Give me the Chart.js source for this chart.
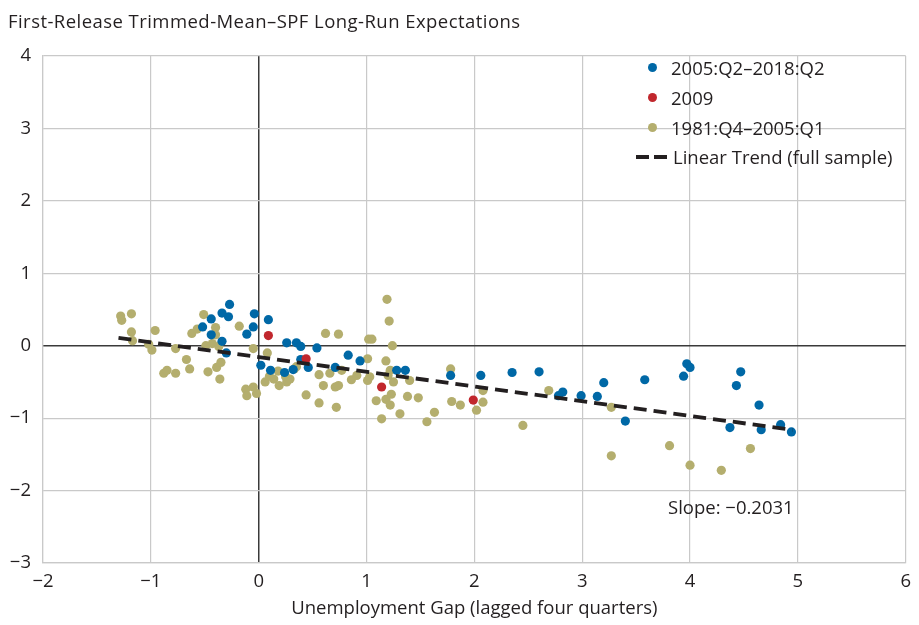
<!DOCTYPE html>
<html>
<head>
<meta charset="utf-8">
<script src="https://cdn.jsdelivr.net/npm/chart.js@4.4.1/dist/chart.umd.min.js"></script>
<style>
  html, body { margin: 0; padding: 0; background: #fff; }
  #wrap { position: relative; width: 919px; height: 625px; font-family: "Open Sans", sans-serif; color: #231f20; }
  #title { position: absolute; left: 8px; top: 8px; font-size: 18.5px; letter-spacing: 0.45px; }
  #legend { position: absolute; left: 636px; top: 53px; font-size: 18.5px; }
  .row { height: 29.7px; display: flex; align-items: center; }
  .dot { width: 9px; height: 9px; border-radius: 50%; margin: 0 14px 0 12px; }
  .dash { width: 13px; height: 4px; background: #231f20; margin-right: 5px; }
  #slope { position: absolute; left: 668px; top: 494px; font-size: 18.5px; }
</style>
</head>
<body>
<div id="wrap">
  <canvas id="chart" width="919" height="625"></canvas>
  <div id="title">First-Release Trimmed-Mean–SPF Long-Run Expectations</div>
  <div id="legend">
    <div class="row"><span class="dot" style="background:#0068a6"></span>2005:Q2–2018:Q2</div>
    <div class="row"><span class="dot" style="background:#c1272d"></span>2009</div>
    <div class="row"><span class="dot" style="background:#b4ae6e"></span>1981:Q4–2005:Q1</div>
    <div class="row"><span class="dash"></span><span class="dash" style="margin-right:6px"></span>Linear Trend (full sample)</div>
  </div>
  <div id="slope">Slope: −0.2031</div>
</div>
<script>
// 2005:Q2–2018:Q2
const recentX = [-0.52, -0.44, -0.44, -0.34, -0.28, -0.27, -0.34, -0.30, -0.11, -0.05, -0.04, 0.02, 0.09, 0.11, 0.24, 0.26, 0.32, 0.35, 0.39, 0.39, 0.46, 0.54, 0.71, 0.83, 0.94, 1.28, 1.36, 1.78, 2.06, 2.35, 2.60, 2.78, 2.82, 2.99, 3.14, 3.20, 3.40, 3.58, 3.94, 3.97, 4.00, 4.37, 4.43, 4.47, 4.64, 4.66, 4.84, 4.94];
const recentY = [0.26, 0.37, 0.15, 0.45, 0.40, 0.57, 0.06, -0.10, 0.16, 0.26, 0.44, -0.27, 0.36, -0.34, -0.37, 0.04, -0.33, 0.04, -0.01, -0.19, -0.30, -0.03, -0.30, -0.13, -0.21, -0.34, -0.34, -0.41, -0.41, -0.37, -0.36, -0.69, -0.64, -0.69, -0.70, -0.51, -1.04, -0.47, -0.42, -0.25, -0.30, -1.13, -0.55, -0.36, -0.82, -1.16, -1.09, -1.19];

// 2009
const crisisX = [0.09, 0.44, 1.14, 1.99];
const crisisY = [0.14, -0.18, -0.57, -0.75];

// 1981:Q4–2005:Q1
const earlyX = [-1.28, -1.27, -1.18, -1.18, -1.17, -1.02, -0.99, -0.96, -0.88, -0.85, -0.77, -0.77, -0.67, -0.64, -0.62, -0.57, -0.51, -0.49, -0.43, -0.37, -0.40, -0.40, -0.47, -0.39, -0.35, -0.36, -0.18, -0.05, 0.08, -0.12, -0.11, -0.05, -0.02, 0.06, 0.10, 0.14, 0.18, 0.19, 0.25, 0.26, 0.33, 0.29, 0.35, 0.62, 0.74, 1.02, 1.05, 1.19, 1.21, 1.24, 1.01, 1.18, 0.56, 0.66, 0.77, 0.60, 0.71, 0.74, 0.86, 0.91, 1.01, 1.03, 1.22, 1.20, 1.25, 1.40, 0.44, 0.56, 0.72, 1.09, 1.18, 1.23, 1.22, 1.38, 1.48, 1.14, 1.31, 1.56, 1.63, 1.78, 1.79, 1.87, 2.02, 2.08, 2.08, 2.45, 2.69, 3.27, 3.27, 3.81, 4.00, 4.29, 4.56];
const earlyY = [0.41, 0.35, 0.44, 0.19, 0.07, 0.02, -0.06, 0.21, -0.38, -0.34, -0.04, -0.38, -0.19, -0.32, 0.17, 0.23, 0.43, 0.00, 0.03, -0.01, 0.25, 0.15, -0.36, -0.30, -0.23, -0.46, 0.27, -0.04, -0.10, -0.60, -0.69, -0.57, -0.66, -0.50, -0.42, -0.46, -0.35, -0.55, -0.43, -0.50, -0.32, -0.46, -0.29, 0.17, 0.16, 0.09, 0.09, 0.64, 0.34, 0.00, -0.18, -0.21, -0.40, -0.38, -0.34, -0.55, -0.57, -0.55, -0.47, -0.41, -0.48, -0.43, -0.34, -0.41, -0.50, -0.48, -0.68, -0.79, -0.85, -0.76, -0.74, -0.67, -0.82, -0.70, -0.72, -1.01, -0.94, -1.05, -0.92, -0.32, -0.77, -0.82, -0.89, -0.78, -0.62, -1.10, -0.62, -0.85, -1.52, -1.38, -1.65, -1.72, -1.42];

// linear trend end points (full sample)
const trendX = [-1.3, 4.95];
const trendY = [0.107, -1.162];

const xTicks = [-2, -1, 0, 1, 2, 3, 4, 5, 6];
const yTicks = [-3, -2, -1, 0, 1, 2, 3, 4];

function toPoints(xs, ys) {
  return xs.map((x, i) => ({ x: x, y: ys[i] }));
}

function minusSign(v) {
  return v < 0 ? '\u2212' + Math.abs(v) : String(v);
}

const textColor = '#231f20';
const tickFont = { family: 'Open Sans', size: 18.5 };

new Chart(document.getElementById('chart').getContext('2d'), {
  type: 'scatter',
  data: {
    datasets: [
      {
        type: 'line',
        data: toPoints(trendX, trendY),
        borderColor: '#231f20',
        borderWidth: 3.8,
        borderDash: [13, 7],
        pointRadius: 0,
        fill: false
      },
      {
        data: toPoints(crisisX, crisisY),
        backgroundColor: '#c1272d',
        pointRadius: 4.6,
        borderWidth: 0
      },
      {
        data: toPoints(recentX, recentY),
        backgroundColor: '#0068a6',
        pointRadius: 4.6,
        borderWidth: 0
      },
      {
        data: toPoints(earlyX, earlyY),
        backgroundColor: '#b4ae6e',
        pointRadius: 4.6,
        borderWidth: 0
      }
    ]
  },
  options: {
    responsive: false,
    animation: false,
    layout: { padding: { top: 56, right: 12, left: 0, bottom: 0 } },
    plugins: {
      legend: { display: false },
      tooltip: { enabled: false }
    },
    scales: {
      x: {
        type: 'linear',
        min: -2,
        max: 6,
        afterBuildTicks: (axis) => { axis.ticks = xTicks.map(v => ({ value: v })); },
        afterFit: (axis) => { axis.height = 62; },
        ticks: {
          color: textColor,
          font: tickFont,
          padding: 8,
          callback: minusSign
        },
        grid: {
          drawTicks: false,
          color: (c) => c.tick && c.tick.value === 0 ? '#3a3a3a' : '#c9c9c9',
          lineWidth: (c) => c.tick && c.tick.value === 0 ? 1.5 : 1.2
        },
        border: { color: '#c9c9c9', width: 1.2 },
        title: {
          display: true,
          text: 'Unemployment Gap (lagged four quarters)',
          color: textColor,
          font: tickFont,
          padding: { top: 6, bottom: 5 }
        }
      },
      y: {
        type: 'linear',
        min: -3,
        max: 4,
        afterBuildTicks: (axis) => { axis.ticks = yTicks.map(v => ({ value: v })); },
        afterFit: (axis) => { axis.width = 43; },
        ticks: {
          color: textColor,
          font: tickFont,
          padding: 12,
          callback: minusSign
        },
        grid: {
          drawTicks: false,
          color: (c) => c.tick && c.tick.value === 0 ? '#3a3a3a' : '#c9c9c9',
          lineWidth: (c) => c.tick && c.tick.value === 0 ? 1.5 : 1.2
        },
        border: { color: '#c9c9c9', width: 1.2 }
      }
    }
  }
});
</script>
</body>
</html>
